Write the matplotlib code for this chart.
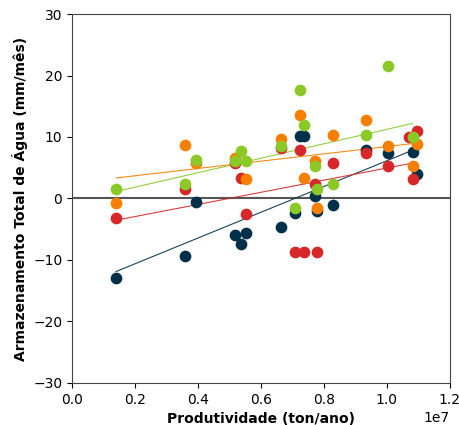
import numpy as np
import matplotlib
matplotlib.use("Agg")
import matplotlib.pyplot as plt

nan = np.nan

# produtividade (ton/ano)
produtividade = np.array([1.397, 3.578, 3.946, 5.19, 5.365, 5.517, 6.644, 7.086, 7.229,
                          7.356, 7.705, 7.787, 8.30, 9.324, 10.022, 10.70, 10.816, 10.943]) * 1e6

# armazenamento total de agua (mm/mes) por serie
serie_azul = [-12.9, -9.35, -0.5, -6.0, -7.45, -5.6, -4.6, -2.4, 10.2,
              10.2, 0.4, -2.0, -1.0, 7.9, 7.4, nan, 7.5, 4.0]
serie_vermelha = [-3.2, 1.5, nan, 5.7, 3.4, -2.5, 8.2, -8.7, 7.9,
                  -8.7, 2.4, -8.7, 5.7, 7.4, 5.3, 10.05, 3.1, 10.9]
serie_laranja = [-0.7, 8.75, 5.7, 6.6, nan, 3.2, 9.6, nan, 13.5,
                 3.4, 6.1, -1.5, 10.3, 12.7, 8.6, nan, 5.3, 8.8]
serie_verde = [1.5, 2.3, 6.26, 6.1, 7.8, 6.1, 8.5, -1.5, 17.7,
               12.0, 5.3, 1.5, 2.4, 10.4, 21.5, nan, 10.05, nan]

series = [serie_azul, serie_vermelha, serie_laranja, serie_verde]
cores = ["#003049", "#d62828", "#f77f00", "#8ac926"]

fig = plt.figure(figsize=(4.59, 4.25), dpi=100)
ax = fig.add_axes([0.157, 0.099, 0.823, 0.868])

ax.axhline(0, color="#555555", lw=1.5, zorder=1)

for y, c in zip(series, cores):
    y = np.array(y, dtype=float)
    ok = ~np.isnan(y)
    xs = produtividade[ok]
    ys = y[ok]
    ax.scatter(xs, ys, s=55, color=c, zorder=3)
    a, b = np.polyfit(xs, ys, 1)
    xl = np.array([xs.min(), xs.max()])
    ax.plot(xl, a * xl + b, color=c, lw=0.8, alpha=0.9, zorder=2)

ax.set_xlim(0, 1.2e7)
ax.set_ylim(-30, 30)
ax.set_yticks([-30, -20, -10, 0, 10, 20, 30])
ax.set_xlabel("Produtividade (ton/ano)", fontweight="bold")
ax.set_ylabel("Armazenamento Total de Água (mm/mês)", fontweight="bold")
for s in ax.spines.values():
    s.set_color("#444444")

fig.savefig("out.png", dpi=100)
